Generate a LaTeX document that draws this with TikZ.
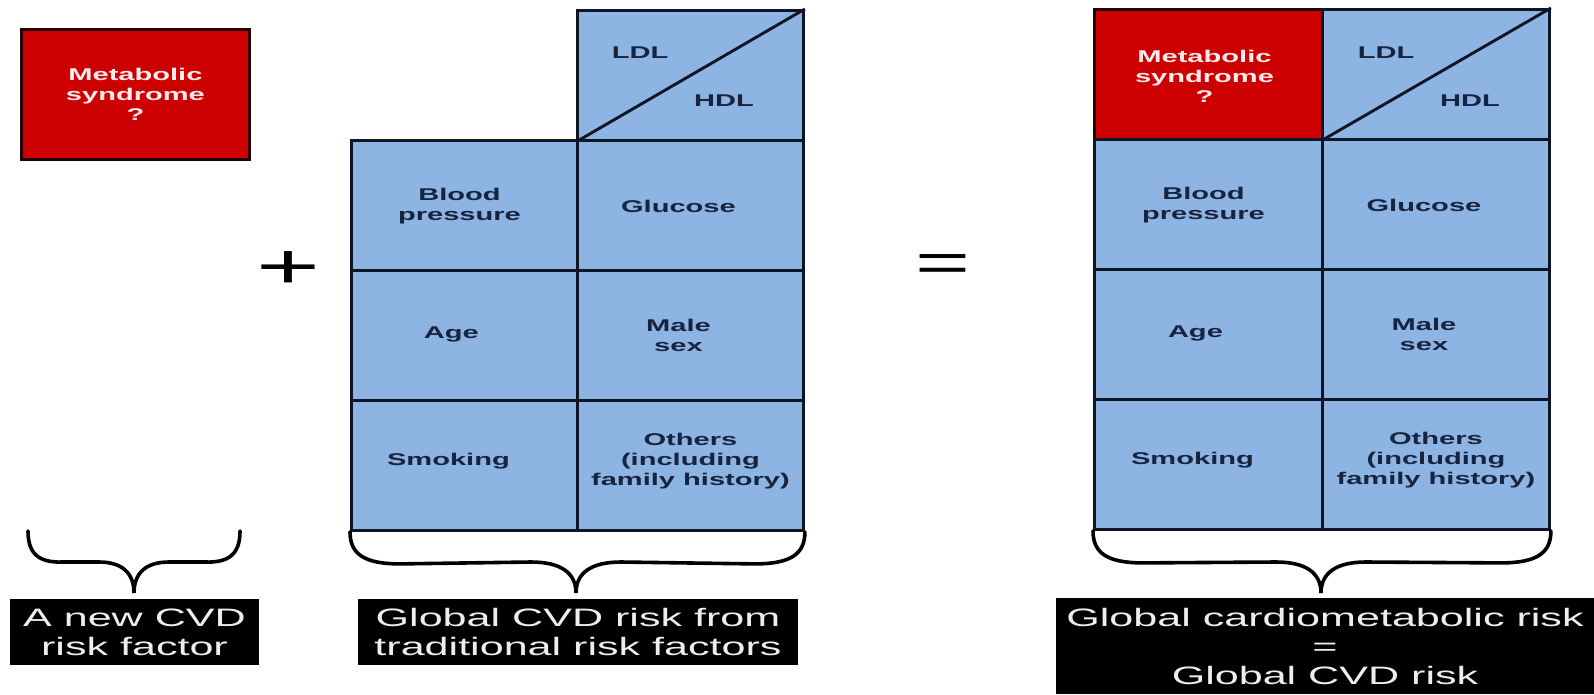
\documentclass[tikz,border=0pt]{standalone}
\usepackage{fontspec}
\setmainfont{Liberation Sans}
\newfontfamily\wfont[FakeStretch=1.71]{Liberation Sans}
\usetikzlibrary{calc}
\definecolor{cellblue}{HTML}{8DB4E2}
\definecolor{cellred}{HTML}{CC0000}
\definecolor{navy}{HTML}{17243F}
\definecolor{edgecol}{HTML}{0E1626}
\definecolor{boxtext}{HTML}{EEEEEE}
\tikzset{
  cell/.style={draw=edgecol, line width=2.9pt, fill=cellblue, inner sep=0pt,
    anchor=north west, minimum height=130pt},
  redcell/.style={cell, fill=cellred, draw=black!85!red},
  ctext/.style={font=\wfont\bfseries\fontsize{17}{20}\selectfont, text=navy,
    align=center, inner sep=0pt},
  rtext/.style={ctext, text=white!92!red},
  sign/.style={font=\wfont\fontsize{64}{64}\selectfont, text=black, inner sep=0pt},
  bracepath/.style={draw=black, line width=3.6pt, line cap=round},
  blackbox/.style={fill=black, text=boxtext, inner sep=0pt, align=center,
    font=\wfont\fontsize{25.2}{29}\selectfont},
}
\newcommand{\bracefrom}[3]{%
  \draw[bracepath] (#1) .. controls ($(#1)+(0,22)$) and ($(#1)+(14,32)$) .. ($(#1)+(50,32)$)
    -- ($(#3)+(-45,-31)$) .. controls ($(#3)+(-15,-31)$) and ($(#3)+(0,-20)$) .. (#3)
    .. controls ($(#3)+(0,-20)$) and ($(#3)+(15,-31)$) .. ($(#3)+(45,-31)$)
    -- ($(#2)+(-50,32)$) .. controls ($(#2)+(-14,32)$) and ($(#2)+(0,22)$) .. (#2);}
\begin{document}
\begin{tikzpicture}[x=1pt,y=-1pt]
\useasboundingbox[fill=white] (0,0) rectangle (1594,694);

% ---------- left: new risk factor ----------
\node[redcell, minimum width=228pt] (red) at (20,28) {};
\node[rtext] (redt) at (red.center) {Metabolic\\syndrome\\?};

% ---------- middle grid ----------
\node[cell, minimum width=226pt] (m12) at (576,9) {};
\node[cell, minimum width=226pt] (m21) at (350,139) {};
\node[cell, minimum width=226pt] (m22) at (576,139) {};
\node[cell, minimum width=226pt] (m31) at (350,269) {};
\node[cell, minimum width=226pt] (m32) at (576,269) {};
\node[cell, minimum width=226pt] (m41) at (350,399) {};
\node[cell, minimum width=226pt] (m42) at (576,399) {};
\draw[draw=edgecol, line width=2.9pt] (m12.south west) -- (m12.north east);
\node[ctext] (mldl) at ($(m12.north west)+(64,44)$) {LDL};
\node[ctext] (mhdl) at ($(m12.north west)+(148,92)$) {HDL};
\node[ctext] (mbp) at ($(m21.center)+(-5,1)$) {Blood\\pressure};
\node[ctext] (mglu) at ($(m22.center)+(-12,1)$) {Glucose};
\node[ctext] (mage) at ($(m31.center)+(-13,-1)$) {Age};
\node[ctext] (mmale) at ($(m32.center)+(-12,0)$) {Male\\sex};
\node[ctext] (msmk) at ($(m41.center)+(-16,-4)$) {Smoking};
\node[ctext] (moth) at ($(m42.center)+(0,-4)$) {Others\\(including\\family history)};

% ---------- right grid ----------
\node[redcell, minimum width=228pt] (r11) at (1093,8) {};
\node[cell, minimum width=227pt] (r12) at (1321,8) {};
\node[cell, minimum width=228pt] (r21) at (1093,138) {};
\node[cell, minimum width=227pt] (r22) at (1321,138) {};
\node[cell, minimum width=228pt] (r31) at (1093,268) {};
\node[cell, minimum width=227pt] (r32) at (1321,268) {};
\node[cell, minimum width=228pt] (r41) at (1093,398) {};
\node[cell, minimum width=227pt] (r42) at (1321,398) {};
\draw[draw=edgecol, line width=2.9pt] (r12.south west) -- (r12.north east);
\node[rtext] (r11t) at ($(r11.center)+(-4,2)$) {Metabolic\\syndrome\\?};
\node[ctext] (rldl) at ($(r12.north west)+(65,45)$) {LDL};
\node[ctext] (rhdl) at ($(r12.north west)+(149,93)$) {HDL};
\node[ctext] (rbp) at ($(r21.center)+(-5,1)$) {Blood\\pressure};
\node[ctext] (rglu) at ($(r22.center)+(-12,1)$) {Glucose};
\node[ctext] (rage) at ($(r31.center)+(-13,-1)$) {Age};
\node[ctext] (rmale) at ($(r32.center)+(-12,0)$) {Male\\sex};
\node[ctext] (rsmk) at ($(r41.center)+(-16,-4)$) {Smoking};
\node[ctext] (roth) at ($(r42.center)+(0,-4)$) {Others\\(including\\family history)};

% ---------- signs ----------
\node[sign] (plus) at (288,270) {+};
\node[sign, font=\wfont\fontsize{55}{55}\selectfont] (eq) at (943,268) {=};

% ---------- braces ----------
\coordinate (la) at (28,531);
\coordinate (lb) at (240,531);
\coordinate (lt) at (134,593);
\coordinate (ma) at (m41.south west);
\coordinate (mb) at (m42.south east);
\coordinate (mt) at (576,593);
\coordinate (ra) at (r41.south west);
\coordinate (rb) at (r42.south east);
\coordinate (rt) at (1321,593);
\draw[bracepath] (la) .. controls ($(la)+(0,22)$) and ($(la)+(10,32)$) .. ($(la)+(35,31)$)
    -- ($(lt)+(-35,-31)$) .. controls ($(lt)+(-12,-31)$) and ($(lt)+(0,-20)$) .. (lt)
    .. controls ($(lt)+(0,-20)$) and ($(lt)+(12,-31)$) .. ($(lt)+(35,-31)$)
    -- ($(lb)+(-35,31)$) .. controls ($(lb)+(-10,32)$) and ($(lb)+(0,22)$) .. (lb);
\bracefrom{ma}{mb}{mt}
\bracefrom{ra}{rb}{rt}

% ---------- black label boxes ----------
\node[blackbox, minimum width=249pt, minimum height=66pt] (lbox) at (134.5,632)
  {A new CVD\\risk factor};
\node[blackbox, minimum width=440pt, minimum height=66pt] (mbox) at (578,632)
  {Global CVD risk from\\traditional risk factors};
\node[blackbox, minimum width=538pt, minimum height=96pt] (rbox) at (1325,646)
  {Global cardiometabolic risk\\=\\Global CVD risk};
\end{tikzpicture}
\end{document}
